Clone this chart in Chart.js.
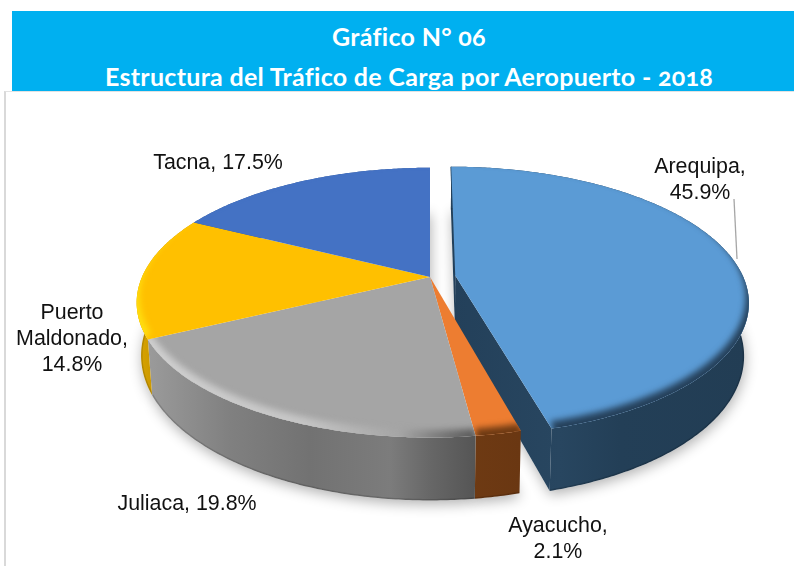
<!DOCTYPE html>
<html lang="es">
<head>
<meta charset="utf-8">
<script src="https://cdn.jsdelivr.net/npm/chart.js@4"></script>
<style>
html,body{margin:0;padding:0;background:#fff;width:794px;height:566px;overflow:hidden}
#frame{position:absolute;left:4px;top:91px;width:790px;height:475px;border-left:2px solid #d9d9d9;border-top:1px solid #e2e2e2;box-sizing:border-box}
#bar{position:absolute;left:12px;top:11px;width:782px;height:80px;background:#00b0f0;color:#fff;text-align:center;
 font-family:Lato,"Open Sans",sans-serif;font-weight:700;font-size:25px;letter-spacing:.3px;font-feature-settings:"onum" 1;font-variant-numeric:oldstyle-nums}
#bar div{position:absolute;left:12px;right:0;white-space:nowrap;line-height:30px}
#t1{top:10px}#t2{top:50px}
canvas{position:absolute;left:0;top:0}
</style>
</head>
<body>
<div id="frame"></div>
<div id="bar"><div id="t1">Gráfico N° 06</div><div id="t2">Estructura del Tráfico de Carga por Aeropuerto - 2018</div></div>
<canvas id="c" width="794" height="566"></canvas>
<script>
const categories = ["Arequipa", "Ayacucho", "Juliaca", "Puerto Maldonado", "Tacna"];
const values = [45.9, 2.1, 19.8, 14.8, 17.5];
const topColors = ["#5b9bd5", "#ed7d31", "#a5a5a5", "#ffc000", "#4472c4"];
const explode = [24, 0, 0, 0, 0];
const labelLines = [["Arequipa,", "45.9%"], ["Ayacucho,", "2.1%"], ["Juliaca, 19.8%"], ["Puerto", "Maldonado,", "14.8%"], ["Tacna, 17.5%"]];
const labelPos = [[700, 167], [558, 526], [187, 504], [72, 313], [218, 163]];
const wallStops = [
  [[450, "#23405a"], [560, "#284660"], [620, "#233f57"], [750, "#223d54"]],
  [[470, "#6e3a13"], [520, "#6a3712"]],
  [[150, "#9a9a9a"], [230, "#808080"], [310, "#727272"], [390, "#7c7c7c"], [430, "#676767"], [475, "#555555"]],
  [[138, "#d9a400"], [160, "#c49200"]],
  [[200, "#2f5597"], [430, "#2f5597"]]
];
const rimStops = [
  [[450, "#25405a"], [750, "#25405a"]],
  [[470, "#6e3a13"], [520, "#6e3a13"]],
  [[145, "#cfcfcf"], [300, "#c6c6c6"], [400, "#a5a5a5"], [440, "#7a7a7a"], [475, "#5a5a5a"]],
  [[138, "#ffdf10"], [160, "#ffdc10"]],
  [[200, "#4472c4"], [430, "#4472c4"]]
];
const view = {cx: 430, cy: 277, rx: 288, ry: 130, persp: 0.19, depth: 51, shrink: 0.985, bevel: 6};

function project(u, v, low) {
  const w = 1 - view.persp * v;
  const s = low ? view.shrink : 1;
  return [view.cx + view.rx * u / w * s, view.cy + view.ry * v / w + (low ? view.depth / w : 0)];
}
function rim(arc, off) {
  const pts = [], n = Math.max(8, Math.ceil((arc.endAngle - arc.startAngle) / 0.01));
  for (let i = 0; i <= n; i++) {
    const a = arc.startAngle + (arc.endAngle - arc.startAngle) * i / n;
    pts.push([Math.cos(a) + off[0], Math.sin(a) + off[1]]);
  }
  return pts;
}
function trace(ctx, pts) {
  pts.forEach((p, i) => i ? ctx.lineTo(p[0], p[1]) : ctx.moveTo(p[0], p[1]));
}
function gradient(ctx, stops) {
  const a = stops[0][0], b = stops[stops.length - 1][0];
  const g = ctx.createLinearGradient(a, 0, b, 0);
  stops.forEach(s => g.addColorStop((s[0] - a) / (b - a), s[1]));
  return g;
}
function drawWall(ctx, p) {
  const upper = p.ring.map(q => project(q[0], q[1], false));
  const lower = p.ring.map(q => project(q[0], q[1], true));
  const apexU = project(p.off[0], p.off[1], false);
  const apexL = project(p.off[0], p.off[1], true);
  ctx.save();
  ctx.fillStyle = gradient(ctx, wallStops[p.i]);
  if (explode[p.i]) {
    [0, upper.length - 1].forEach(e => {
      ctx.beginPath();
      trace(ctx, [apexU, upper[e], lower[e], apexL]);
      ctx.closePath();
      ctx.fill();
    });
    ctx.strokeStyle = wallStops[p.i][0][1];
    ctx.lineWidth = 1.6;
    ctx.beginPath();
    trace(ctx, [upper[0], apexU]);
    ctx.stroke();
  }
  ctx.beginPath();
  trace(ctx, upper.concat(lower.slice().reverse()));
  ctx.closePath();
  ctx.fill();
  ctx.clip();
  ctx.strokeStyle = "rgba(0,0,0,0.15)";
  ctx.lineWidth = 3;
  ctx.beginPath();
  trace(ctx, lower);
  ctx.stroke();
  ctx.restore();
}
function drawTop(ctx, p) {
  const upper = p.ring.map(q => project(q[0], q[1], false));
  const apexU = project(p.off[0], p.off[1], false);
  ctx.save();
  ctx.fillStyle = topColors[p.i];
  ctx.beginPath();
  trace(ctx, [apexU].concat(upper));
  ctx.closePath();
  ctx.fill();
  ctx.clip();
  const inner = p.ring.map(q => {
    const w = 1 - view.persp * q[1], r = project(q[0], q[1], false);
    return [r[0] - 3 * q[0], r[1] - view.bevel / w];
  });
  const outerExt = p.ring.map(q => {
    const r = project(q[0], q[1], false);
    return [r[0] + 12 * q[0], r[1] + 12 * q[1]];
  });
  ctx.filter = "blur(3px)";
  ctx.fillStyle = gradient(ctx, rimStops[p.i]);
  ctx.beginPath();
  trace(ctx, outerExt.concat(inner.slice().reverse()));
  ctx.closePath();
  ctx.fill();
  ctx.restore();
}

const pie3d = {
  id: "pie3d",
  beforeDatasetsDraw(chart) {
    const ctx = chart.ctx;
    const arcs = chart.getDatasetMeta(0).data;
    const parts = arcs.map((arc, i) => {
      const mid = (arc.startAngle + arc.endAngle) / 2;
      const k = explode[i] / arc.outerRadius;
      const off = [Math.cos(mid) * k, Math.sin(mid) * k];
      return {i, arc, off, ring: rim(arc, off)};
    });
    ctx.save();
    ctx.shadowColor = "rgba(0,0,0,0.30)";
    ctx.shadowBlur = 13;
    ctx.shadowOffsetY = 4;
    ctx.shadowOffsetX = 1;
    ctx.fillStyle = "#ffffff";
    parts.forEach(p => {
      ctx.beginPath();
      trace(ctx, [p.off].concat(p.ring).map(q => project(q[0], q[1], true)));
      ctx.closePath();
      ctx.fill();
    });
    ctx.restore();
    const lifted = parts.filter(p => explode[p.i]);
    const seated = parts.filter(p => !explode[p.i]);
    lifted.forEach(p => { drawWall(ctx, p); drawTop(ctx, p); });
    seated.forEach(p => drawWall(ctx, p));
    seated.forEach(p => drawTop(ctx, p));
    return false;
  },
  afterDraw(chart) {
    const ctx = chart.ctx;
    ctx.save();
    ctx.strokeStyle = "#a6a6a6";
    ctx.lineWidth = 1.3;
    ctx.beginPath();
    ctx.moveTo(734, 199);
    ctx.lineTo(737, 259);
    ctx.stroke();
    ctx.fillStyle = "#111111";
    ctx.font = '21.4px "Liberation Sans", Arial, sans-serif';
    ctx.textAlign = "center";
    ctx.textBaseline = "middle";
    labelLines.forEach((lines, i) => {
      lines.forEach((t, j) => ctx.fillText(t, labelPos[i][0], labelPos[i][1] + j * 26));
    });
    ctx.restore();
  }
};

new Chart(document.getElementById("c"), {
  type: "pie",
  data: {
    labels: categories,
    datasets: [{data: values, backgroundColor: topColors, offset: explode, borderWidth: 0}]
  },
  options: {
    responsive: false,
    animation: false,
    events: [],
    plugins: {legend: {display: false}, title: {display: false}, tooltip: {enabled: false}}
  },
  plugins: [pie3d]
});
</script>
</body>
</html>
